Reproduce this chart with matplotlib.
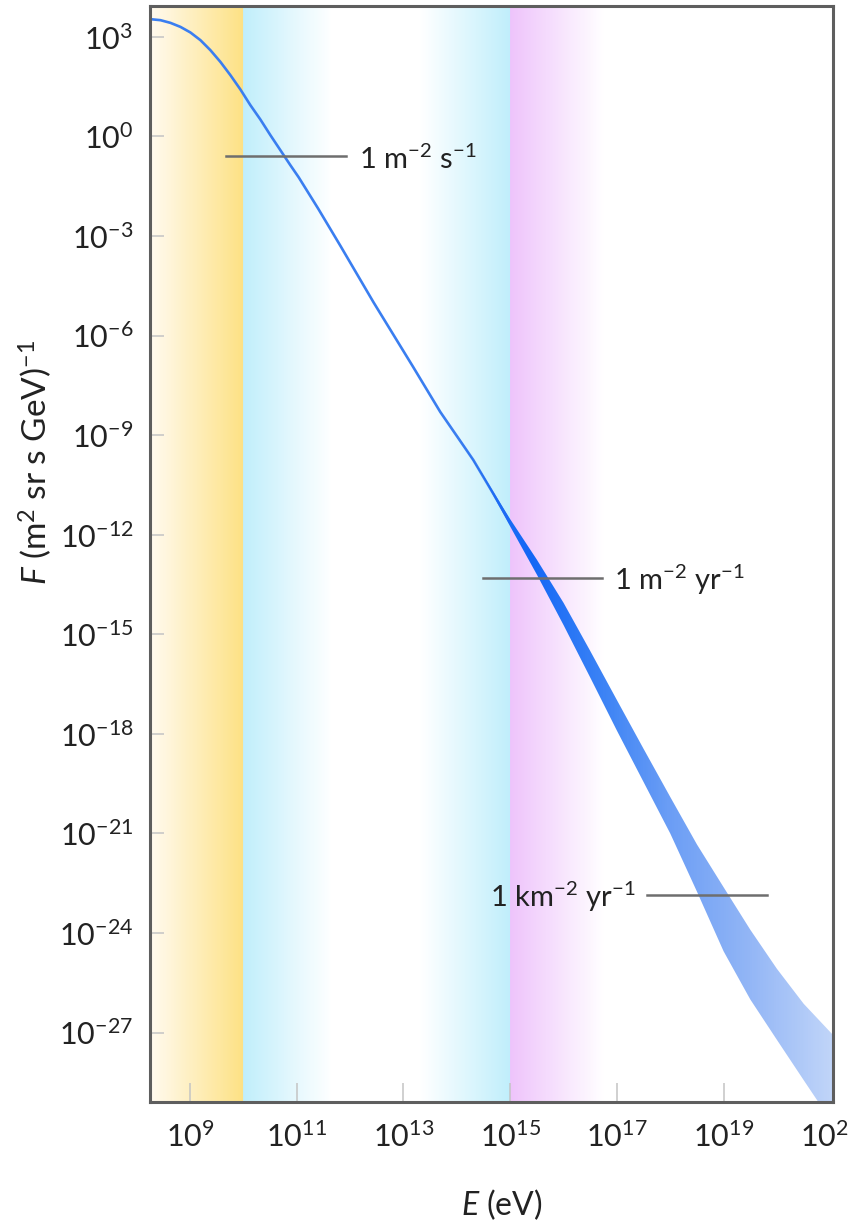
import numpy as np
import matplotlib
matplotlib.use("Agg")
import matplotlib.pyplot as plt
from matplotlib.colors import LinearSegmentedColormap, to_rgb

plt.rcParams['font.family'] = ['Lato', 'DejaVu Sans']
plt.rcParams['mathtext.fontset'] = 'custom'
plt.rcParams['mathtext.rm'] = 'Lato'
plt.rcParams['mathtext.it'] = 'Lato:italic'
plt.rcParams['mathtext.bf'] = 'Lato:bold'

# all-particle cosmic ray flux (log10 values)
line_logE = [8.258, 8.446, 8.633, 8.820, 9.007, 9.195, 9.382, 9.569, 9.757, 9.944,
             10.131, 10.318, 10.506, 10.693, 10.880, 11.036, 11.4, 11.82, 12.44, 13.18,
             13.69, 14.31, 14.69, 15.0]
line_logF = [3.533, 3.503, 3.422, 3.301, 3.133, 2.901, 2.599, 2.247, 1.846, 1.416,
             0.943, 0.512, 0.039, -0.413, -0.865, -1.230, -2.17, -3.30, -5.00, -6.94,
             -8.30, -9.75, -10.78, -11.64]

# uncertainty band at high energies
band_logE = [14.0, 14.5, 15.0, 15.5, 16.0, 16.5, 17.0, 17.5, 18.0, 18.5, 19.0, 19.5, 20.0, 20.5, 21.05]
band_upper = [-8.98, -10.22, -11.53, -12.75, -14.05, -15.50, -16.98, -18.45, -19.90, -21.33,
              -22.62, -23.90, -25.08, -26.13, -27.07]
band_lower = [-8.98, -10.28, -11.75, -13.20, -14.72, -16.30, -17.90, -19.45, -21.00, -22.75,
              -24.55, -26.00, -27.22, -28.43, -29.75]

# integral flux reference marks: level, line start/end, label
ref_logF = [-0.60, -13.30, -22.85]
ref_start = [9.68, 14.50, 17.56]
ref_end = [11.92, 16.73, 19.82]
ref_text = [r'$\mathregular{1\ m^{-2}\ s^{-1}}$',
            r'$\mathregular{1\ m^{-2}\ yr^{-1}}$',
            r'$\mathregular{1\ km^{-2}\ yr^{-1}}$']

xticks_log = [9, 11, 13, 15, 17, 19, 21]
yticks_log = [3, 0, -3, -6, -9, -12, -15, -18, -21, -24, -27]

xlim_log = (8.25, 21.05)
ylim_log = (-29.09, 3.93)


def gradient_span(ax, a, b, c0, c1, n=90):
    c0 = np.array(to_rgb(c0))
    c1 = np.array(to_rgb(c1))
    edges = np.linspace(a, b, n + 1)
    for i in range(n):
        t = (i + 0.5) / n
        col = (1 - t) * c0 + t * c1
        ax.axvspan(10 ** edges[i], 10 ** edges[i + 1], facecolor=col, edgecolor=col,
                   lw=0.6, zorder=0)


fig = plt.figure(figsize=(8.48, 12.23), dpi=100)
ax = fig.add_axes([150 / 848, 1 - 1102 / 1223, 683 / 848, 1096 / 1223])
ax.set_xscale('log')
ax.set_yscale('log')

# coloured energy regions
gradient_span(ax, xlim_log[0], 10.0, '#fffaf0', '#fde184')
gradient_span(ax, 10.0, 11.65, '#c0eefb', '#ffffff')
gradient_span(ax, 13.3, 15.0, '#ffffff', '#c0eefb')
gradient_span(ax, 15.0, 16.75, '#eec3fb', '#ffffff')

E_line = 10 ** np.array(line_logE)
ax.plot(E_line, 10 ** np.array(line_logF), color='#3a7ef0', lw=1.9, zorder=3,
        solid_capstyle='butt', solid_joinstyle='round')

band = ax.fill_between(10 ** np.array(band_logE), 10 ** np.array(band_lower),
                       10 ** np.array(band_upper), facecolor='none', edgecolor='none', zorder=4)
cmap = LinearSegmentedColormap.from_list('band', [
    (0.0, '#3a7ef0'), (0.45, '#2a73f2'), (0.56, '#1467f6'), (0.66, '#3a82f5'),
    (0.76, '#6a9df5'), (0.88, '#93b6f6'), (1.0, '#c0d5f9')])
grad = np.linspace(0, 1, 600).reshape(1, -1)
im = ax.imshow(grad, extent=[0, 1, 0, 1], transform=ax.transAxes, aspect='auto',
               cmap=cmap, vmin=0, vmax=1, zorder=4, interpolation='bilinear')
im.set_clip_path(band.get_paths()[0], transform=ax.transData)

# reference levels
for lf, s, e in zip(ref_logF, ref_start, ref_end):
    ax.plot([10 ** s, 10 ** e], [10 ** lf, 10 ** lf], color='#6e6e6e', lw=1.8, zorder=5)

ax.annotate(ref_text[0], (10 ** 12.17, 10 ** ref_logF[0]), xytext=(0, -9),
            textcoords='offset points', ha='left', va='baseline', fontsize=21, color='#222222')
ax.annotate(ref_text[1], (10 ** 16.95, 10 ** ref_logF[1]), xytext=(0, -9),
            textcoords='offset points', ha='left', va='baseline', fontsize=21, color='#222222')
ax.annotate(ref_text[2], (10 ** 17.36, 10 ** ref_logF[2]), xytext=(0, -9),
            textcoords='offset points', ha='right', va='baseline', fontsize=21, color='#222222')

ax.set_xlim(10 ** xlim_log[0], 10 ** xlim_log[1])
ax.set_ylim(10 ** ylim_log[0], 10 ** ylim_log[1])

ax.set_xticks([10.0 ** k for k in xticks_log])
ax.set_xticklabels([r'$\mathregular{10^{%d}}$' % k for k in xticks_log])
ax.set_yticks([10.0 ** k for k in yticks_log])
ax.set_yticklabels([r'$\mathregular{10^{%d}}$' % k for k in yticks_log])
ax.minorticks_off()
ax.tick_params(axis='x', direction='in', length=14, width=1.1, color='#c4c4c4',
               labelsize=22, pad=14, labelcolor='#222222', top=False)
ax.tick_params(axis='y', direction='in', length=10, width=1.1, color='#c4c4c4',
               labelsize=22, pad=12, labelcolor='#222222', right=False)
for sp in ax.spines.values():
    sp.set_color('#5e5e5e')
    sp.set_linewidth(2.2)
    sp.set_zorder(6)

ax.set_xlabel(r'$\mathit{E}$ (eV)', fontsize=23, color='#222222')
ax.set_ylabel(r'$\mathit{F}$ (m$^{\mathregular{2}}$ sr s GeV)$^{\mathregular{-1}}$', fontsize=24,
              color='#222222')
ax.xaxis.set_label_coords(0.515, -0.078)
ax.yaxis.set_label_coords(-0.140, 0.584)

fig.savefig('out.png', dpi=100)
